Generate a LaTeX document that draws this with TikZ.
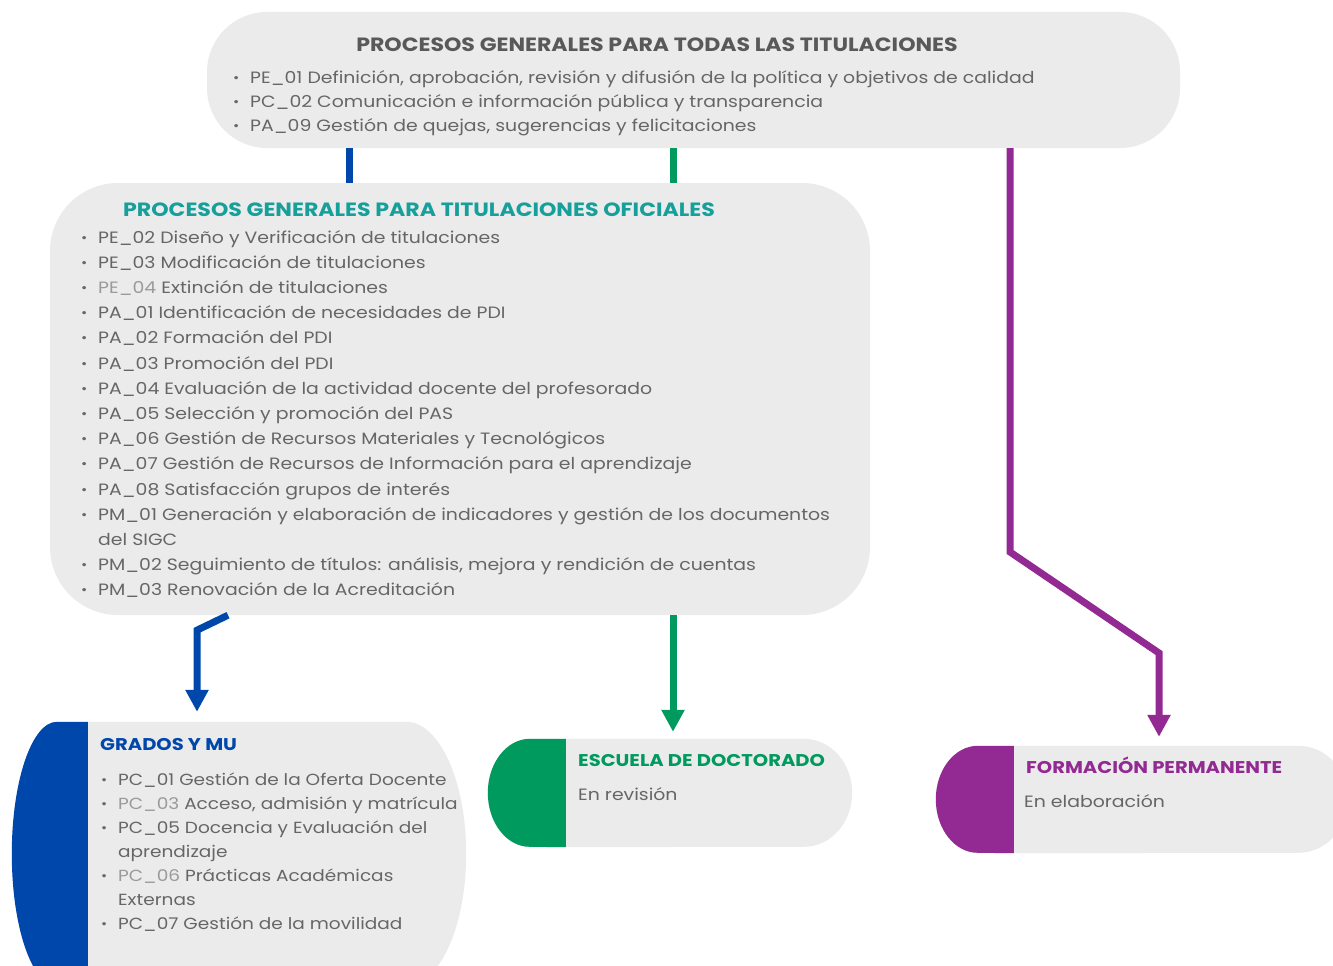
\documentclass[tikz,border=0pt]{standalone}
\usepackage{fontspec}
\setmainfont{Poppins}[FakeStretch=1.15]
\usetikzlibrary{arrows.meta}

\definecolor{boxgray}{HTML}{EBEBEB}
\definecolor{txtgray}{HTML}{666666}
\definecolor{ligray}{HTML}{9A9A9A}
\definecolor{titgray}{HTML}{595959}
\definecolor{ofteal}{HTML}{17A09B}
\definecolor{gblue}{HTML}{0047AB}
\definecolor{dgreen}{HTML}{009A5E}
\definecolor{fpurple}{HTML}{932A93}

\newcommand{\bl}{\makebox[18pt][l]{\hspace{1pt}\raisebox{1pt}{\scalebox{.8}{•}}}}

\newcommand{\pillbox}[6]{%
  \fill [boxgray] ([xshift=#2pt]#1.north west) -- ([xshift=-#3pt]#1.north east)
    arc [start angle=-90, end angle=90, x radius=#3, y radius=#4]
    -- ([xshift=#2pt]#1.south west)
    arc [start angle=90, end angle=270, x radius=#2, y radius=#4] -- cycle;
  \fill [#5] ([xshift=#6pt]#1.north west) -- ([xshift=#2pt]#1.north west)
    arc [start angle=270, end angle=90, x radius=#2, y radius=#4]
    -- ([xshift=#6pt]#1.south west) -- cycle;
}

\tikzset{
  box/.style={fill=boxgray, rounded corners=#1, inner sep=0pt},
  frame/.style={inner sep=0pt},
  item/.style={anchor=base west, inner sep=0pt, text=txtgray, font=\fontsize{16.4}{18}\selectfont},
  smallitem/.style={item, font=\fontsize{16.1}{18}\selectfont},
  head/.style={anchor=base west, inner sep=0pt, font=\bfseries\fontsize{19.2}{20}\selectfont},
  subhead/.style={anchor=base west, inner sep=0pt, font=\bfseries\fontsize{17}{20}\selectfont},
  link/.style={line width=7pt, -{Triangle[width=22pt, length=22pt]}},
  bar/.style={line width=7pt}
}

\begin{document}
\begin{tikzpicture}[x=1pt, y=-1pt]
\useasboundingbox (0, 0) rectangle (1333, 966);
\clip (0, 0) rectangle (1333, 966);

\node [box=60pt, minimum width=973pt, minimum height=136pt] (todas) at (693.5, 80) {};
\node [box=68pt, minimum width=820pt, minimum height=432pt] (oficiales) at (460, 399) {};
\node [frame, minimum width=454pt, minimum height=264pt] (grados) at (239, 854) {};
\node [frame, minimum width=364pt, minimum height=108pt] (escuela) at (670, 793) {};
\node [frame, minimum width=412pt, minimum height=107pt] (formacion) at (1142, 799.5) {};

\pillbox{grados}{45}{60}{132}{gblue}{76}
\pillbox{escuela}{42}{48}{54}{dgreen}{78}
\pillbox{formacion}{42}{50}{53.5}{fpurple}{78}

\coordinate (bx) at (349, 0);
\coordinate (bd) at (228, 0);
\coordinate (bb) at (197, 0);
\coordinate (gx) at (673, 0);
\coordinate (px) at (1010, 0);
\coordinate (pp) at (1159, 0);

\draw [bar, gblue] (todas.south -| bx) -- (oficiales.north -| bx);
\draw [link, gblue, shorten >=10pt] (oficiales.south -| bd) -- ++(-31, 15) -- (grados.north -| bb);

\draw [bar, dgreen] (todas.south -| gx) -- (oficiales.north -| gx);
\draw [link, dgreen, shorten >=7pt] (oficiales.south -| gx) -- (escuela.north -| gx);

\draw [link, fpurple, shorten >=9pt] (todas.south -| px) -- (1010, 552) -- (1159, 653) -- (formacion.north -| pp);

\node [head, anchor=base, text=titgray] (t0) at (657, 52) {PROCESOS GENERALES PARA TODAS LAS TITULACIONES};
\node [item] (t1) at (232, 83) {\bl PE\_01 Definición, aprobación, revisión y difusión de la política y objetivos de calidad};
\node [item] (t2) at (232, 107) {\bl PC\_02 Comunicación e información pública y transparencia};
\node [item] (t3) at (232, 131) {\bl PA\_09 Gestión de quejas, sugerencias y felicitaciones};

\node [head, text=ofteal] (o0) at (123, 216) {PROCESOS GENERALES PARA TITULACIONES OFICIALES};
\node [item] (o1) at (80, 243) {\bl PE\_02 Diseño y Verificación de titulaciones};
\node [item] (o2) at (80, 268.2) {\bl PE\_03 Modificación de titulaciones};
\node [item] (o3) at (80, 293.4) {\bl \textcolor{ligray}{PE\_04} Extinción de titulaciones};
\node [item] (o4) at (80, 318.6) {\bl PA\_01 Identificación de necesidades de PDI};
\node [item] (o5) at (80, 343.8) {\bl PA\_02 Formación del PDI};
\node [item] (o6) at (80, 369) {\bl PA\_03 Promoción del PDI};
\node [item] (o7) at (80, 394.2) {\bl PA\_04 Evaluación de la actividad docente del profesorado};
\node [item] (o8) at (80, 419.4) {\bl PA\_05 Selección y promoción del PAS};
\node [item] (o9) at (80, 444.6) {\bl PA\_06 Gestión de Recursos Materiales y Tecnológicos};
\node [item] (o10) at (80, 469.8) {\bl PA\_07 Gestión de Recursos de Información para el aprendizaje};
\node [item] (o11) at (80, 495) {\bl PA\_08 Satisfacción grupos de interés};
\node [item] (o12) at (80, 520.2) {\bl PM\_01 Generación y elaboración de indicadores y gestión de los documentos};
\node [item] (o13) at (98, 545.4) {del SIGC};
\node [item] (o14) at (80, 570.6) {\bl PM\_02 Seguimiento de títulos: análisis, mejora y rendición de cuentas};
\node [item] (o15) at (80, 595.8) {\bl PM\_03 Renovación de la Acreditación};

\node [subhead, text=gblue] (g0) at (100, 750) {GRADOS Y MU};
\node [smallitem] (g1) at (100, 785) {\bl PC\_01 Gestión de la Oferta Docente};
\node [smallitem] (g2) at (100, 809) {\bl \textcolor{ligray}{PC\_03} Acceso, admisión y matrícula};
\node [smallitem] (g3) at (100, 833) {\bl PC\_05 Docencia y Evaluación del};
\node [smallitem] (g4) at (118, 857) {aprendizaje};
\node [smallitem] (g5) at (100, 881) {\bl \textcolor{ligray}{PC\_06} Prácticas Académicas};
\node [smallitem] (g6) at (118, 905) {Externas};
\node [smallitem] (g7) at (100, 929) {\bl PC\_07 Gestión de la movilidad};

\node [subhead, text=dgreen] (e0) at (578, 766) {ESCUELA DE DOCTORADO};
\node [item] (e1) at (578, 800) {En revisión};

\node [subhead, text=fpurple] (f0) at (1026, 773) {FORMACIÓN PERMANENTE};
\node [item] (f1) at (1024, 807) {En elaboración};
\end{tikzpicture}
\end{document}
